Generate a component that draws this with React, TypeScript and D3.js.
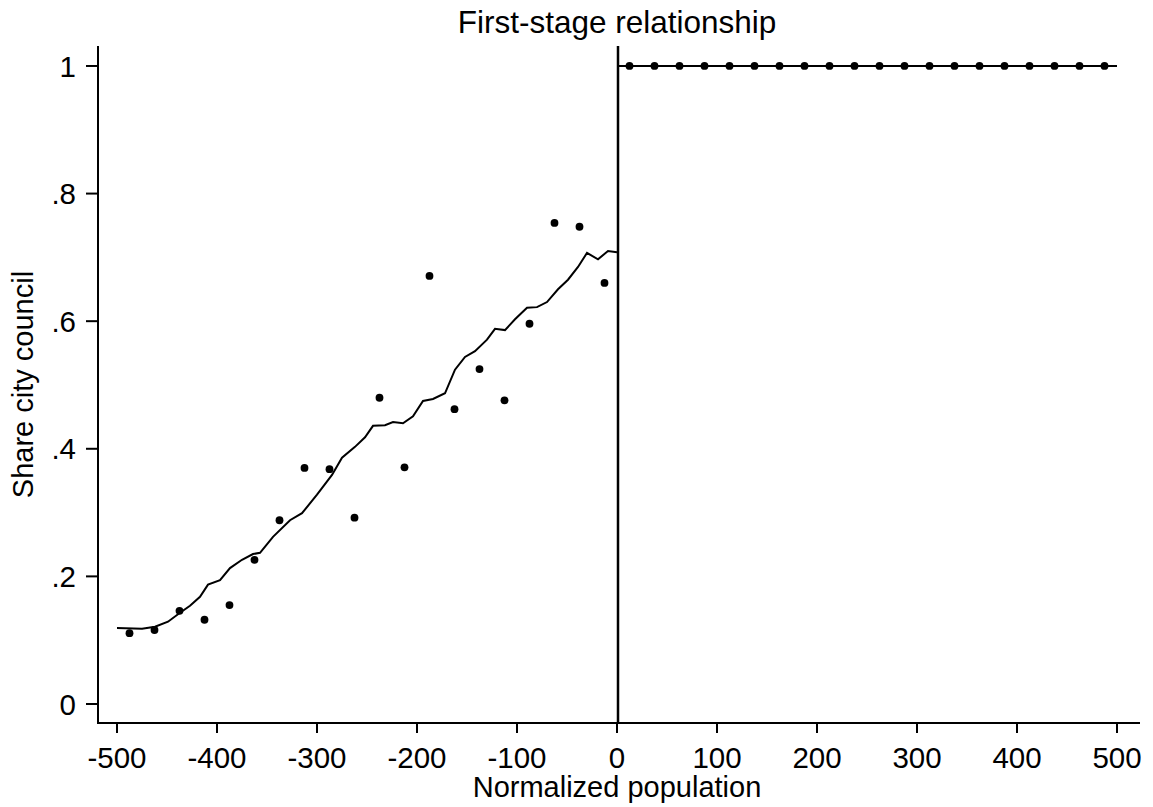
import React from 'react';
import * as d3 from 'd3';

// binned means (25-unit bins)
const binLeft = [-487.5, -462.5, -437.5, -412.5, -387.5, -362.5, -337.5, -312.5, -287.5, -262.5,
  -237.5, -212.5, -187.5, -162.5, -137.5, -112.5, -87.5, -62.5, -37.5, -12.5];
const meanLeft = [0.111, 0.116, 0.146, 0.132, 0.155, 0.226, 0.288, 0.370, 0.368, 0.292,
  0.480, 0.371, 0.671, 0.462, 0.525, 0.476, 0.596, 0.754, 0.748, 0.660];
const binRight = [12.5, 37.5, 62.5, 87.5, 112.5, 137.5, 162.5, 187.5, 212.5, 237.5,
  262.5, 287.5, 312.5, 337.5, 362.5, 387.5, 412.5, 437.5, 462.5, 487.5];
const meanRight = [1, 1, 1, 1, 1, 1, 1, 1, 1, 1, 1, 1, 1, 1, 1, 1, 1, 1, 1, 1];

// smoothed fit, left of the cutoff
const fitLeftX = [-500, -475, -462, -449, -437, -427, -417, -409, -397, -387, -375, -364, -357,
  -344, -327, -315, -300, -285, -275, -262, -252, -244, -232, -224, -214, -204, -194, -184,
  -172, -162, -152, -142, -130, -122, -112, -102, -90, -80, -70, -59, -49, -39, -30, -19, -9, 0];
const fitLeftY = [0.119, 0.118, 0.121, 0.129, 0.143, 0.154, 0.168, 0.187, 0.194, 0.213, 0.226,
  0.235, 0.237, 0.262, 0.288, 0.299, 0.328, 0.359, 0.386, 0.403, 0.418, 0.436, 0.437, 0.442,
  0.440, 0.451, 0.475, 0.478, 0.487, 0.524, 0.544, 0.553, 0.571, 0.588, 0.586, 0.603, 0.621,
  0.622, 0.630, 0.650, 0.665, 0.685, 0.707, 0.697, 0.710, 0.708];
const fitRightX = [0, 500];
const fitRightY = [1, 1];

const xTicks = [-500, -400, -300, -200, -100, 0, 100, 200, 300, 400, 500];
const yTicks = [0, 0.2, 0.4, 0.6, 0.8, 1];
const yTickLabels = ['0', '.2', '.4', '.6', '.8', '1'];

const W = 1153;
const H = 807;
const font = '"Liberation Sans", Arial, sans-serif';

export default function App() {
  const x = d3.scaleLinear().domain([-519, 523]).range([98, 1140]);
  const y = d3.scaleLinear().domain([-0.0298, 1.0313]).range([723, 46]);

  const line = d3.line<[number, number]>()
    .x(d => x(d[0]))
    .y(d => y(d[1]));

  const leftPts = fitLeftX.map((v, i) => [v, fitLeftY[i]] as [number, number]);
  const rightPts = fitRightX.map((v, i) => [v, fitRightY[i]] as [number, number]);

  const [x0, x1] = x.range();
  const [yb, yt] = y.range();

  return (
    <svg width={W} height={H} style={{ position: 'absolute', left: 0, top: 0, background: '#fff' }}
      fontFamily={font}>
      <rect width={W} height={H} fill="#fff" />
      <text x={617} y={33} textAnchor="middle" fontSize={31.5}>First-stage relationship</text>

      {/* axes */}
      <line x1={x0} x2={x0} y1={yt} y2={yb + 1} stroke="#000" strokeWidth={2} />
      <line x1={x0 - 1} x2={x1} y1={yb} y2={yb} stroke="#000" strokeWidth={2} />
      {yTicks.map((t, i) => (
        <g key={'y' + t}>
          <line x1={x0 - 12} x2={x0} y1={y(t)} y2={y(t)} stroke="#000" strokeWidth={2} />
          <text x={76} y={y(t)} dy="0.36em" textAnchor="end" fontSize={29.5}>{yTickLabels[i]}</text>
        </g>
      ))}
      {xTicks.map(t => (
        <g key={'x' + t}>
          <line x1={x(t)} x2={x(t)} y1={yb} y2={yb + 10} stroke="#000" strokeWidth={2} />
          <text x={x(t)} y={768} textAnchor="middle" fontSize={29.5}>{String(t)}</text>
        </g>
      ))}
      <text x={617} y={797} textAnchor="middle" fontSize={29}>Normalized population</text>
      <text transform={`translate(33,${(yt + yb) / 2}) rotate(-90)`} textAnchor="middle" fontSize={29}>
        Share city council
      </text>

      {/* cutoff */}
      <line x1={x(0) + 1} x2={x(0) + 1} y1={yt} y2={yb} stroke="#000" strokeWidth={2.5} />

      {/* fits */}
      <path d={line(leftPts) ?? ''} fill="none" stroke="#000" strokeWidth={2} />
      <path d={line(rightPts) ?? ''} fill="none" stroke="#000" strokeWidth={2} />

      {/* bin means */}
      {binLeft.map((b, i) => (
        <circle key={'l' + i} cx={x(b)} cy={y(meanLeft[i])} r={3.9} fill="#000" />
      ))}
      {binRight.map((b, i) => (
        <circle key={'r' + i} cx={x(b)} cy={y(meanRight[i])} r={3.9} fill="#000" />
      ))}
    </svg>
  );
}
